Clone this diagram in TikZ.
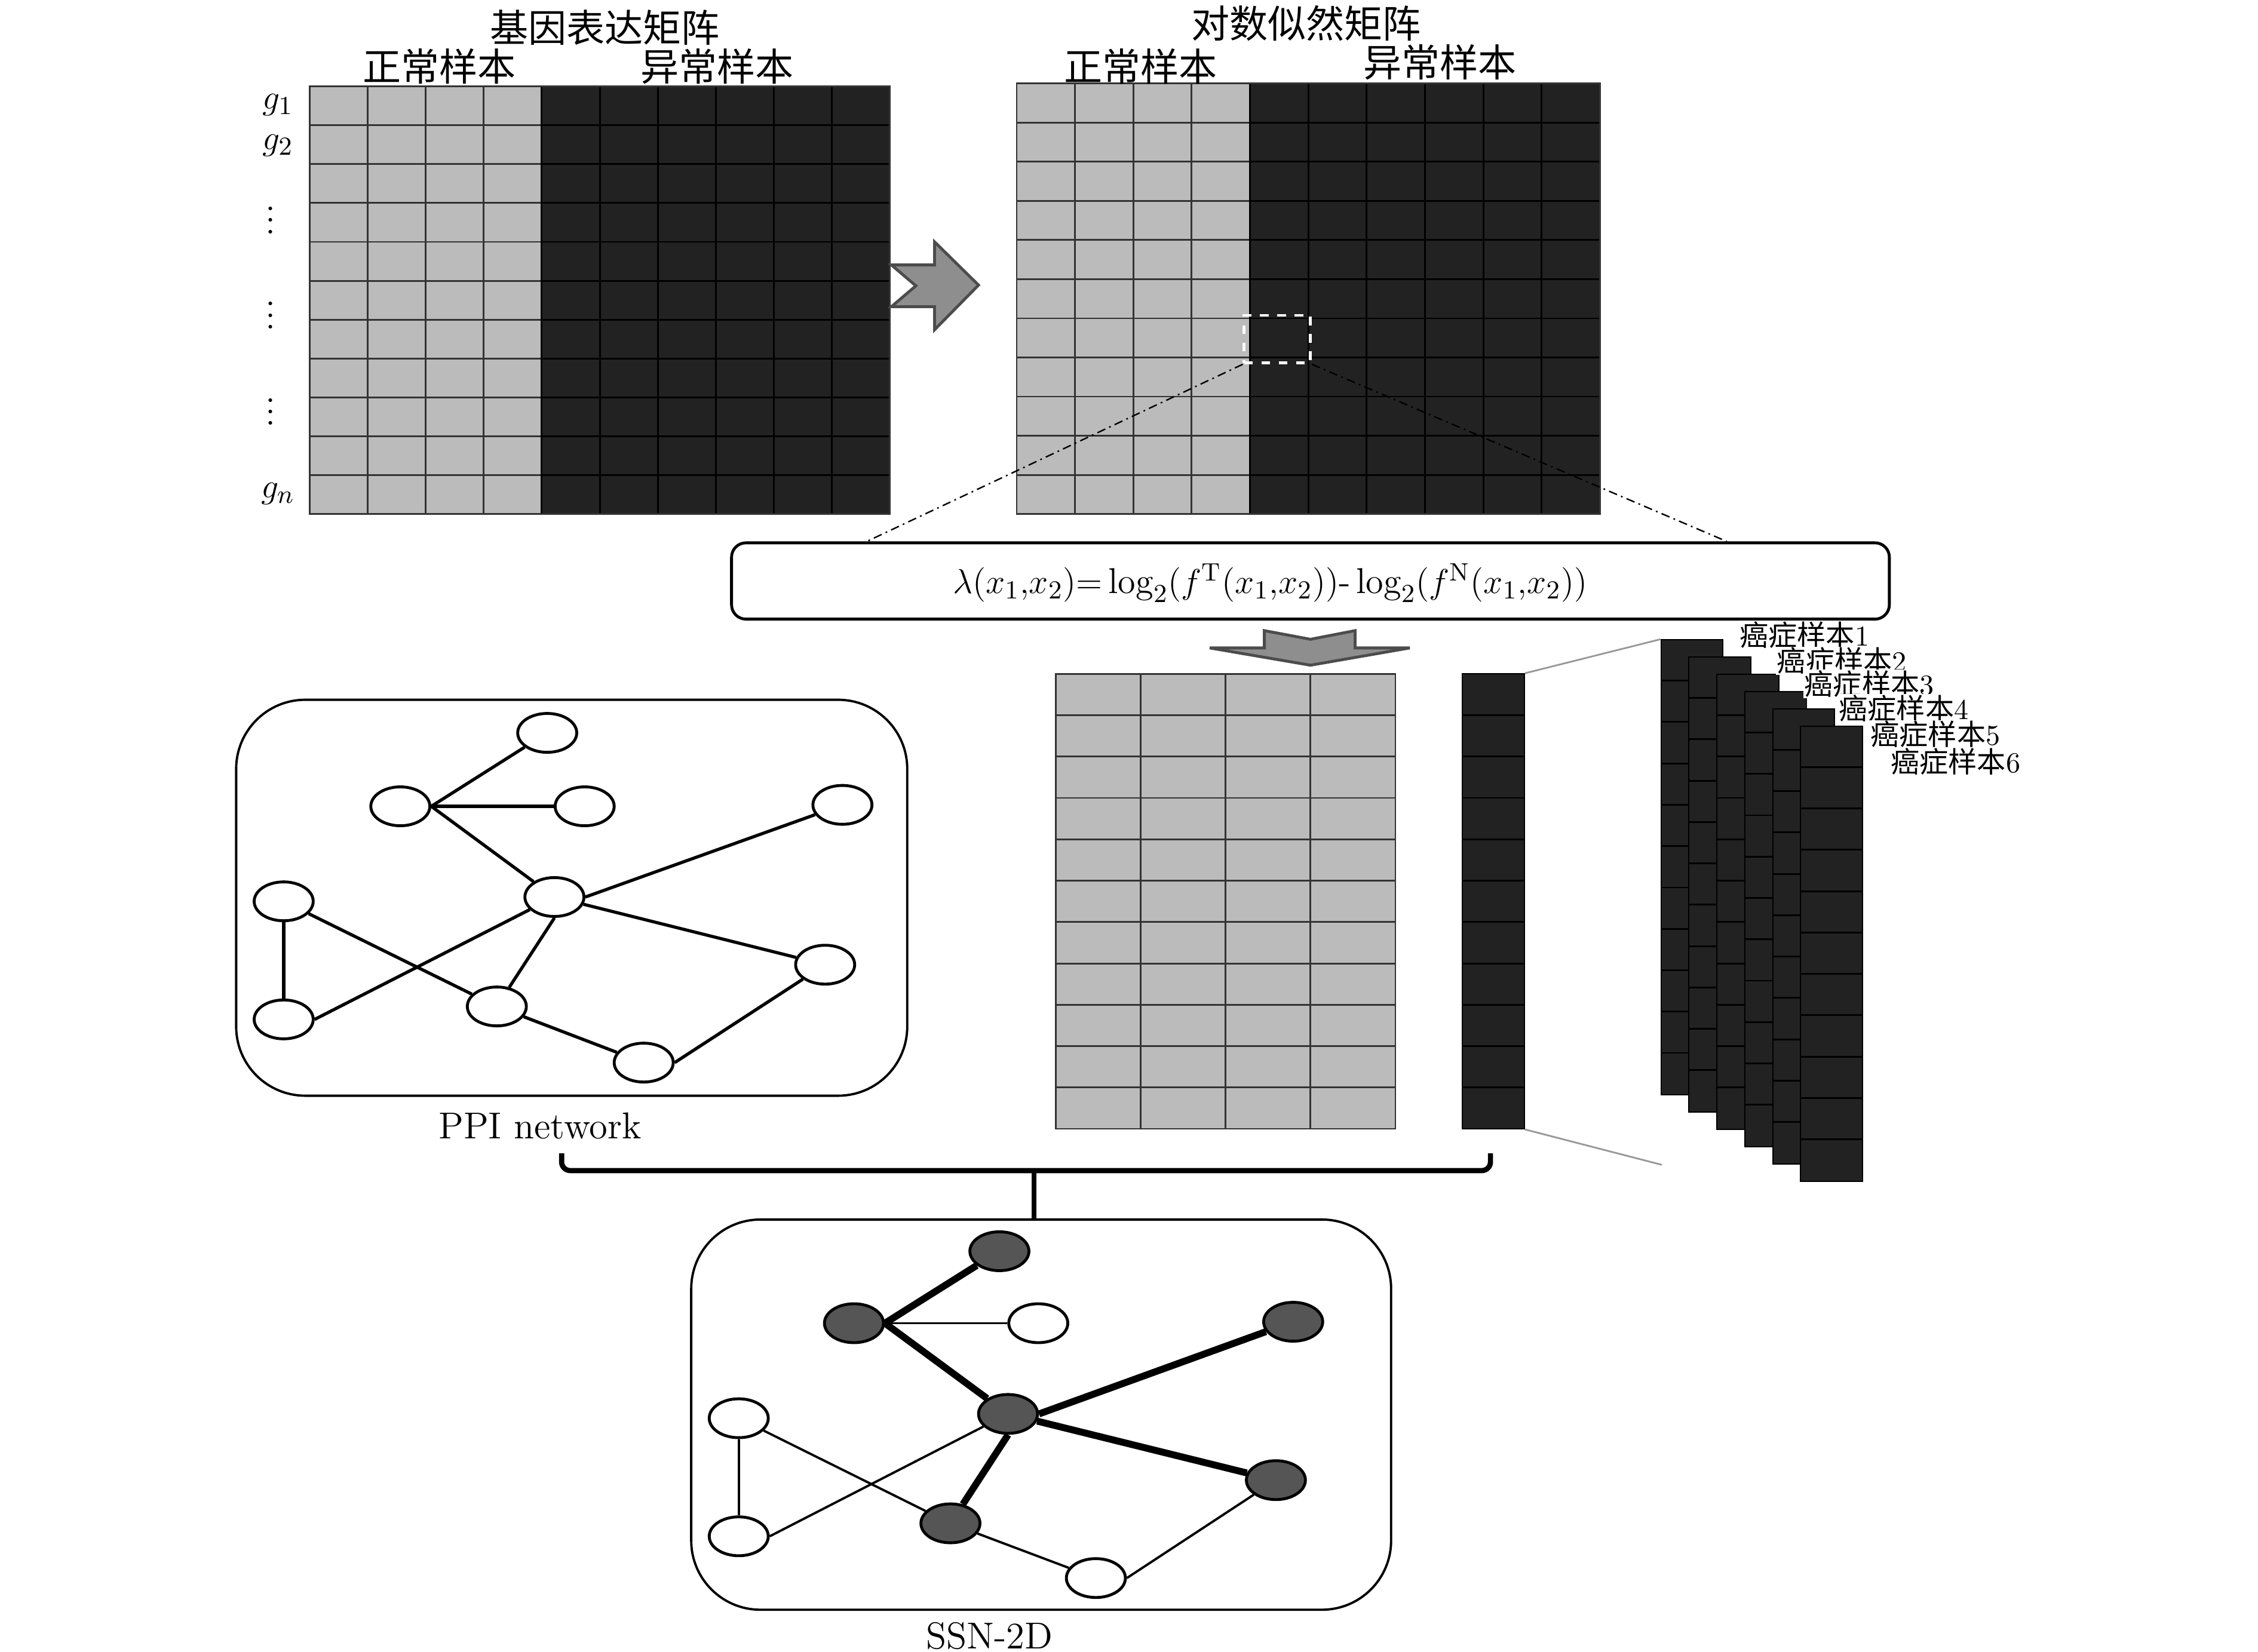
\documentclass[tikz,border=0pt]{standalone}
\usepackage{fontspec}
\newfontfamily\cjk{Noto Sans CJK SC}
\usepackage{xcolor}
\usepackage{tikz}
\usetikzlibrary{arrows.meta,positioning,calc,shapes.geometric}
\definecolor{cellg}{HTML}{BBBBBB}
\definecolor{celld}{HTML}{222222}
\definecolor{arrg}{HTML}{8E8E8E}
\definecolor{nodeg}{HTML}{555555}

\begin{document}
\begin{tikzpicture}[x=0.5pt,y=-0.5pt,
  tit/.style={font=\fontsize{13.3}{15}\selectfont\cjk,inner sep=0},
  glab/.style={font=\fontsize{13}{15}\selectfont,inner sep=0},
  lab/.style={font=\fontsize{13}{15}\selectfont,inner sep=0},
  slab/.style={font=\fontsize{10}{11}\selectfont,inner sep=0.3pt,fill=white,anchor=west},
  gline/.style={draw=black!80,line width=0.6pt},
  dline/.style={draw=black,line width=0.6pt},
  cline/.style={draw=black!40,line width=0.6pt},
  barrow/.style={fill=arrg,draw=black!70,line width=1pt},
  zoomr/.style={draw=white,dashed,line width=1pt,minimum width=23pt,minimum height=16.5pt,inner sep=0},
  zline/.style={black,line width=0.5pt,dash pattern=on 3pt off 1.5pt on 0.6pt off 1.5pt},
  fbox/.style={draw,line width=1pt,rounded corners=5pt,minimum width=402pt,minimum height=26.5pt,inner sep=0},
  dcol/.style={fill=celld,draw=black,line width=0.4pt,minimum width=21.5pt,minimum height=158pt,inner sep=0},
  netbox/.style={draw,line width=0.8pt,rounded corners=24pt,inner sep=0},
  pnode/.style={ellipse,draw,fill=white,line width=1pt,minimum width=20.5pt,minimum height=13.5pt,inner sep=0},
  snode/.style={pnode,fill=nodeg},
  pedge/.style={line width=1.1pt},
  sedge/.style={line width=0.8pt},
  hedge/.style={line width=2.4pt},
  brk/.style={line width=1.8pt}]
\useasboundingbox (0,0) rectangle (1568,1147);

% gene expression matrix
\fill[cellg] (215,60) rectangle (376,357);
\fill[celld] (376,60) rectangle (618,357);
\foreach \r in {1,...,10}{
  \draw[gline] (215,{60+27*\r}) -- (376,{60+27*\r});
  \draw[dline] (376,{60+27*\r}) -- (618,{60+27*\r});
}
\foreach \c in {1,...,3} \draw[gline] ({215+40.3*\c},60) -- ({215+40.3*\c},357);
\foreach \c in {4,...,9} \draw[dline] ({215+40.3*\c},60) -- ({215+40.3*\c},357);
\draw[gline] (215,60) rectangle (618,357);
\node[tit] (t1) at (420,19) {基因表达矩阵};
\node[tit] (n1) at (305,46) {正常样本};
\node[tit] (a1) at (498,46) {异常样本};
\node[glab] (g1) at (193,73) {$g_1$};
\node[glab] (g2) at (193,101) {$g_2$};
\foreach \y in {147,213,280} \node[glab] (vd\y) at (188,\y) {$\vdots$};
\node[glab] (gn) at (193,343) {$g_n$};

\draw[barrow] (619,184) -- (649,184) -- (649,168) -- (679.5,198) -- (649,229) -- (649,213) -- (619,213) -- (636,198.5) -- cycle;

% log-likelihood matrix
\fill[cellg] (706,58) rectangle (868,357);
\fill[celld] (868,58) rectangle (1111,357);
\foreach \r in {1,...,10}{
  \draw[gline] (706,{58+27.18*\r}) -- (868,{58+27.18*\r});
  \draw[dline] (868,{58+27.18*\r}) -- (1111,{58+27.18*\r});
}
\foreach \c in {1,...,3} \draw[gline] ({706+40.5*\c},58) -- ({706+40.5*\c},357);
\foreach \c in {4,...,9} \draw[dline] ({706+40.5*\c},58) -- ({706+40.5*\c},357);
\draw[gline] (706,58) rectangle (1111,357);
\node[tit] (t2) at (907,16) {对数似然矩阵};
\node[tit] (n2) at (792,46) {正常样本};
\node[tit] (a2) at (1000,43) {异常样本};

\node[zoomr] (zr) at (887,235.5) {};
\coordinate (zl) at (602,376);
\coordinate (zrr) at (1199,376);
\draw[zline] (zr.south west) -- (zl);
\draw[zline] (zr.south east) -- (zrr);

\node[fbox] (fml) at (910,403.5) {};
\node[font=\fontsize{12.5}{15}\selectfont,inner sep=0] (fmltxt) at (882,405)
  {$\lambda(x_1{,}x_2){=}\log_2(f^{\mathrm{T}}(x_1{,}x_2))\mbox{-}\log_2(f^{\mathrm{N}}(x_1{,}x_2))$};

\draw[barrow] (878,438) -- (910,444) -- (941,438) -- (941,450) -- (979,450) -- (910,462) -- (840,450) -- (878,450) -- cycle;

% matrix of normal samples
\fill[cellg] (733,468) rectangle (969,784);
\foreach \r in {1,...,10} \draw[gline] (733,{468+28.73*\r}) -- (969,{468+28.73*\r});
\foreach \c in {1,...,3} \draw[gline] ({733+59*\c},468) -- ({733+59*\c},784);
\draw[gline] (733,468) rectangle (969,784);

% one sample column and its stack
\node[dcol] (dcol) at (1037,626) {};
\foreach \r in {1,...,10} \draw[dline] (1016,{468+28.73*\r}) -- (1058,{468+28.73*\r});
\coordinate (sb) at (1154,809);
\draw[cline] (dcol.north east) -- (1153,444) coordinate (st);
\draw[cline] (dcol.south east) -- (sb);
\foreach \k in {0,...,5}{
  \node[dcol,anchor=north west] (stk\k) at ({1153+19.4*\k},{444+12*\k}) {};
  \foreach \r in {1,...,10} \draw[dline] ($(stk\k.north west)+(0,28.73*\r)$) -- ++(43,0);
}
\foreach \k/\x/\y in {1/1207/441,2/1233/459,3/1252/475,4/1276/492,5/1298/510,6/1312/529}
  \node[slab] (sl\k) at (\x,\y) {{\cjk 癌症样本}\k};

% PPI network
\node[netbox,minimum width=233pt,minimum height=137.5pt] (ppi) at (397,623.5) {};
\foreach \n/\x/\y in {1/380/509,2/278/560,3/406/560,4/585/559,5/385/623,6/197/626,7/573/670,8/197/708,9/345/699,10/447/738}
  \node[pnode] (p\n) at (\x,\y) {};
\draw[pedge] (p2.east) -- (p1);
\draw[pedge] (p2.east) -- (p3);
\draw[pedge] (p2.east) -- (p5);
\draw[pedge] (p5.east) -- (p4);
\draw[pedge] (p5) -- (p7);
\draw[pedge] (p5.south) -- (p9);
\draw[pedge] (p5) -- (p8.east);
\draw[pedge] (p6) -- (p8);
\draw[pedge] (p6) -- (p9);
\draw[pedge] (p9) -- (p10);
\draw[pedge] (p10.east) -- (p7);
\node[lab] (ppilab) at (375,782) {PPI network};

% SSN-2D
\node[netbox,minimum width=243pt,minimum height=135.5pt] (ssn) at (723,982.5) {};
\foreach \n/\x/\y/\s in {1/694/869/snode,2/593/919/snode,3/721/919/pnode,4/898/918/snode,5/700/982/snode,6/513/985/pnode,7/886/1028/snode,8/513/1067/pnode,9/660/1058/snode,10/761/1096/pnode}
  \node[\s] (s\n) at (\x,\y) {};
\draw[hedge] (s2.east) -- (s1);
\draw[sedge] (s2.east) -- (s3);
\draw[hedge] (s2.east) -- (s5);
\draw[hedge] (s5.east) -- (s4);
\draw[hedge] (s5) -- (s7);
\draw[hedge] (s5.south) -- (s9);
\draw[sedge] (s5) -- (s8.east);
\draw[sedge] (s6) -- (s8);
\draw[sedge] (s6) -- (s9);
\draw[sedge] (s9) -- (s10);
\draw[sedge] (s10.east) -- (s7);
\node[lab] (ssnlab) at (687,1136) {SSN-2D};

% bracket joining network and samples
\coordinate (bl) at (390,801);
\coordinate (br) at (1035,801);
\coordinate (bm) at (718,813);
\draw[brk,rounded corners=3pt] (bl) |- (bm) -| (br);
\draw[brk] (bm) -- (bm |- ssn.north);
\end{tikzpicture}
\end{document}
